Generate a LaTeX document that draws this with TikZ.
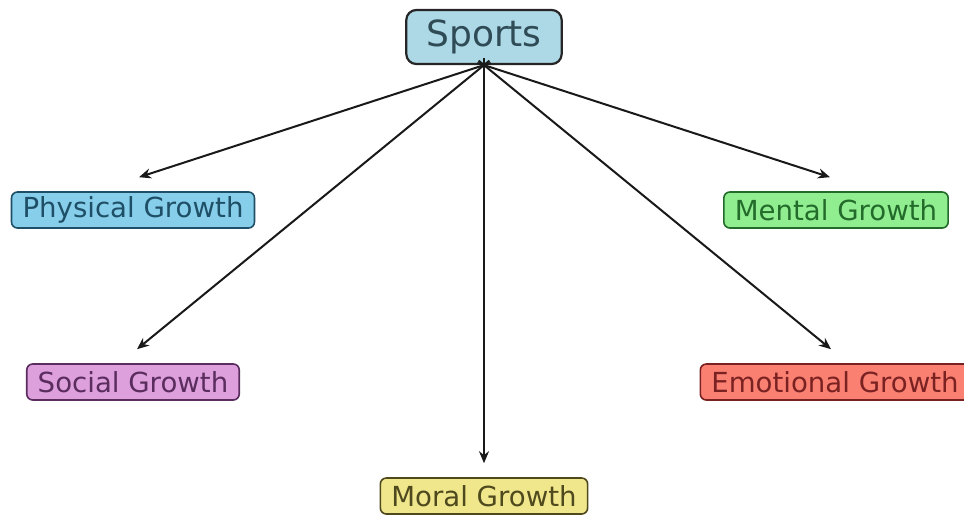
\documentclass[tikz,border=0pt]{standalone}
\usepackage{fontspec}
\setmainfont{DejaVu Sans}
\usetikzlibrary{positioning, arrows.meta}

\definecolor{sportsfill}{HTML}{ADD8E6}
\definecolor{sportstext}{HTML}{2F4B55}
\definecolor{physfill}{HTML}{87CEEB}
\definecolor{phystext}{HTML}{1E4F66}
\definecolor{mentalfill}{HTML}{90EE90}
\definecolor{mentaltext}{HTML}{236B2A}
\definecolor{socialfill}{HTML}{DDA0DD}
\definecolor{socialtext}{HTML}{5A2D5E}
\definecolor{emofill}{HTML}{FA8072}
\definecolor{emotext}{HTML}{7A2222}
\definecolor{moralfill}{HTML}{F0E68C}
\definecolor{moraltext}{HTML}{4F4A1E}

\begin{document}
\begin{tikzpicture}[x=0.5pt, y=-0.5pt,
    % Styles
    root/.style={draw=black!85, fill=sportsfill, line width=1.1pt, rounded corners=5pt, text=sportstext, font=\fontsize{18}{21}\selectfont, inner xsep=10pt, inner ysep=0pt, minimum height=27pt},
    growth/.style={line width=0.8pt, rounded corners=3pt, font=\fontsize{13.8}{16}\selectfont, inner xsep=5.5pt, inner ysep=0pt, minimum height=18pt},
    link/.style={-{Stealth[length=6pt, width=5pt]}, line width=1pt, black!90, shorten <=-3.5pt},
]
\useasboundingbox (0,0) rectangle (964,515);

% Root
\node[root] (sports) at (484, 37) {Sports};

% Growth areas
\node[growth, draw=phystext, fill=physfill, text=phystext] (physical) at (133, 210) {Physical Growth};
\node[growth, draw=mentaltext, fill=mentalfill, text=mentaltext] (mental) at (836, 210) {Mental Growth};
\node[growth, draw=socialtext, fill=socialfill, text=socialtext] (social) at (133, 382) {Social Growth};
\node[growth, draw=emotext, fill=emofill, text=emotext] (emotional) at (835, 382) {Emotional Growth};
\node[growth, draw=moraltext, fill=moralfill, text=moraltext] (moral) at (484, 496) {Moral Growth};

% Arrows
\draw[link] (sports.south) -- ([yshift=7pt, xshift=3pt]physical.north);
\draw[link] (sports.south) -- ([yshift=7pt, xshift=-3pt]mental.north);
\draw[link] (sports.south) -- ([yshift=7pt, xshift=2pt]social.north);
\draw[link] (sports.south) -- ([yshift=7pt, xshift=-2pt]emotional.north);
\draw[link] (sports.south) -- ([yshift=7pt]moral.north);

\end{tikzpicture}
\end{document}
